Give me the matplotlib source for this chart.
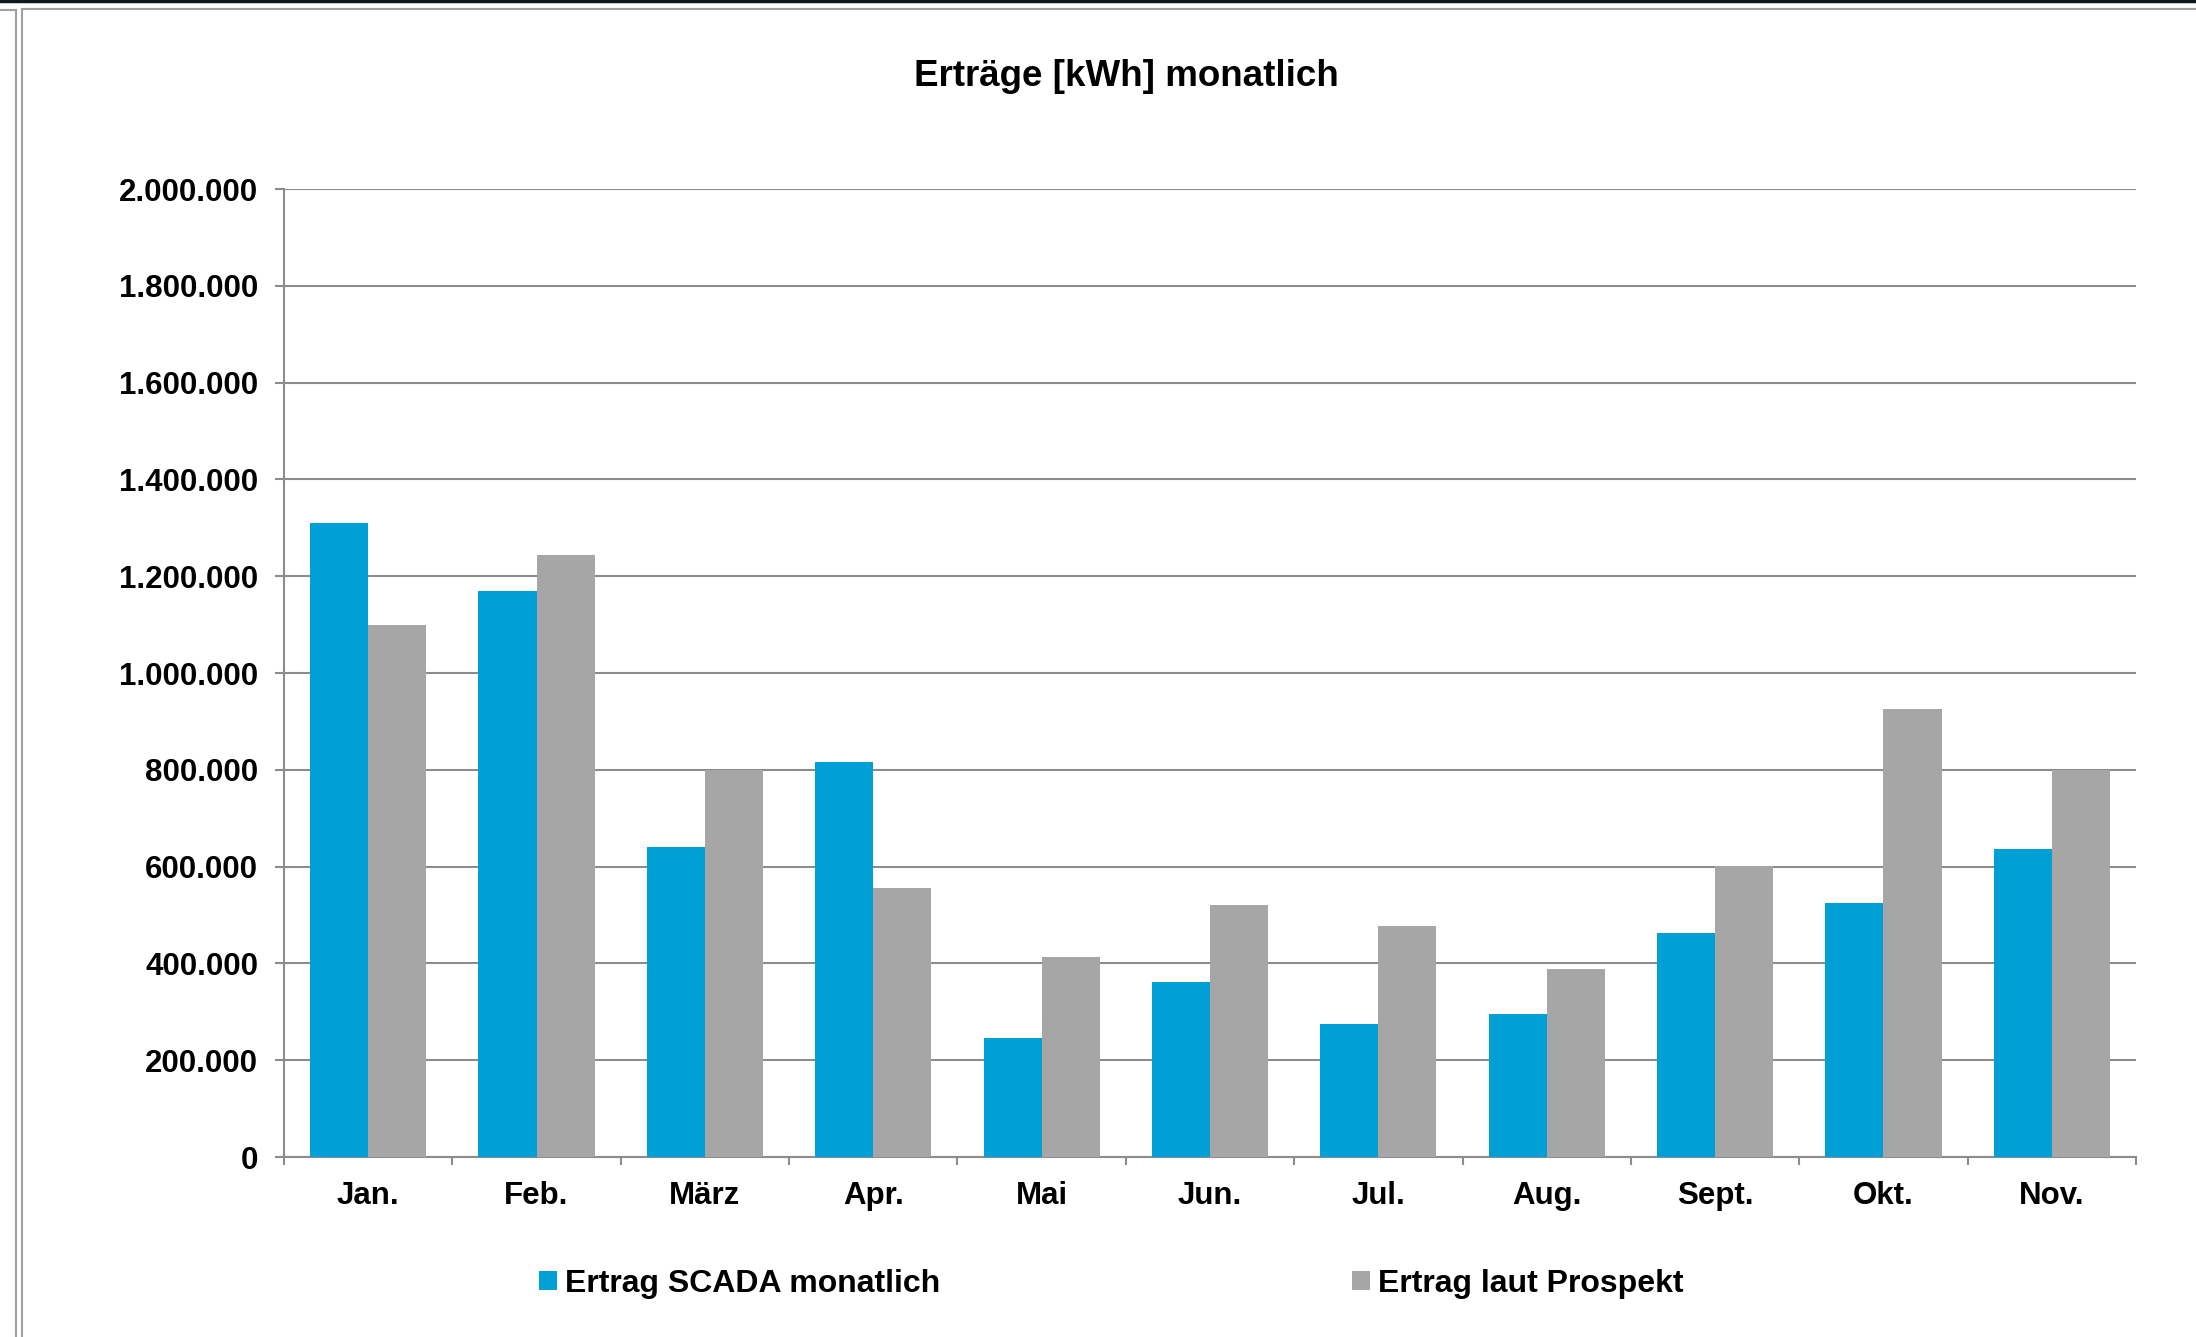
import matplotlib.pyplot as plt
import numpy as np
from matplotlib.lines import Line2D

# Daten (kWh)
monate = ["Jan.", "Feb.", "März", "Apr.", "Mai", "Jun.", "Jul.", "Aug.", "Sept.", "Okt.", "Nov."]
ertrag_scada = [1310000, 1170000, 640000, 816000, 246000, 362000, 275000, 295000, 463000, 524000, 637000]
ertrag_prospekt = [1100000, 1243000, 800000, 556000, 414000, 521000, 477000, 388000, 602000, 926000, 800000]
y_ticks = [0, 200000, 400000, 600000, 800000, 1000000, 1200000, 1400000, 1600000, 1800000, 2000000]

blau = "#009FD6"
grau = "#A6A6A6"
linie = "#8C8C8C"

plt.rcParams["font.family"] = ["Liberation Sans", "DejaVu Sans"]
plt.rcParams["font.weight"] = "bold"

fig = plt.figure(figsize=(21.96, 13.37), dpi=100)
ax = fig.add_axes([0.1293, 0.1346, 0.8434, 0.724])

x = np.arange(len(monate))
breite = 0.345
ax.bar(x - breite / 2, ertrag_scada, breite, color=blau, label="Ertrag SCADA monatlich", zorder=3)
ax.bar(x + breite / 2, ertrag_prospekt, breite, color=grau, label="Ertrag laut Prospekt", zorder=3)

ax.set_xlim(-0.5, len(monate) - 0.5)
ax.set_ylim(0, 2000000)

# y-Achse
ax.set_yticks(y_ticks)
ax.set_yticklabels([f"{v:,}".replace(",", ".") for v in y_ticks])
ax.yaxis.grid(True, color=linie, linewidth=1.5, zorder=0)
ax.tick_params(axis="y", direction="out", length=6.5, width=1.5, color=linie,
               labelsize=22.5, pad=12)

# x-Achse: Striche zwischen den Kategorien, Beschriftung in der Mitte
ax.set_xticks(np.arange(-0.5, len(monate), 1.0))
ax.set_xticklabels([])
ax.set_xticks(x, minor=True)
ax.set_xticklabels(monate, minor=True)
ax.tick_params(axis="x", which="major", direction="out", length=6, width=1.5, color=linie)
ax.tick_params(axis="x", which="minor", length=0, labelsize=22.5, pad=17)

for s in ["top", "right"]:
    ax.spines[s].set_visible(False)
for s in ["left", "bottom"]:
    ax.spines[s].set_color(linie)
    ax.spines[s].set_linewidth(1.5)

fig.text(0.513, 0.943, "Erträge [kWh] monatlich", ha="center", va="center",
         fontsize=26.5, fontweight="bold")

fig.legend(loc="center", bbox_to_anchor=(0.506, 0.040), ncol=2, frameon=False,
           fontsize=23, handlelength=0.55, handleheight=0.55, handletextpad=0.25,
           columnspacing=12.9)

# Rahmenlinien wie im Original
fig.add_artist(Line2D([0, 1], [0.999, 0.999], color="#0b1a1c", linewidth=2.5, transform=fig.transFigure))
fig.add_artist(Line2D([22 / 2196, 1], [1 - 9 / 1337] * 2, color="#a0a0a0", linewidth=1.5, transform=fig.transFigure))
fig.add_artist(Line2D([0, 16 / 2196], [1 - 10 / 1337] * 2, color="#a0a0a0", linewidth=1.5, transform=fig.transFigure))
fig.add_artist(Line2D([16 / 2196] * 2, [0, 1 - 10 / 1337], color="#a0a0a0", linewidth=1.5, transform=fig.transFigure))
fig.add_artist(Line2D([22 / 2196] * 2, [0, 1 - 9 / 1337], color="#a0a0a0", linewidth=1.5, transform=fig.transFigure))

fig.savefig("out.png", dpi=100)
